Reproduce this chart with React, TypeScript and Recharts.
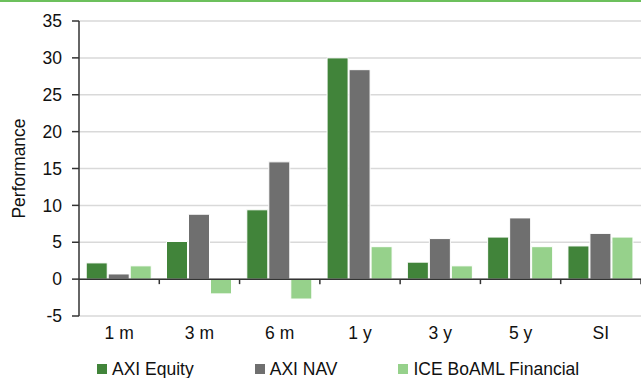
import React from 'react';
import {
  BarChart,
  Bar,
  XAxis,
  YAxis,
  CartesianGrid,
  ReferenceLine,
  Legend,
} from 'recharts';

const periods = ['1 m', '3 m', '6 m', '1 y', '3 y', '5 y', 'SI'];
const axiEquity = [2.2, 5.1, 9.4, 30.0, 2.3, 5.7, 4.5];
const axiNav = [0.7, 8.8, 15.9, 28.4, 5.5, 8.3, 6.2];
const iceBoaml = [1.8, -2.0, -2.7, 4.4, 1.8, 4.4, 5.7];
const yTicks = [-5, 0, 5, 10, 15, 20, 25, 30, 35];

const seriesNames = ['AXI Equity', 'AXI NAV', 'ICE BoAML Financial'];
const seriesColors = ['#41843a', '#6f6f6f', '#96d18b'];

const data = periods.map((p, i) => ({
  period: p,
  equity: axiEquity[i],
  nav: axiNav[i],
  ice: iceBoaml[i],
}));

const FONT = '"Liberation Sans", Arial, sans-serif';
const FS = 17.5;

// zero line with small tick marks at the category boundaries
const ZeroLine = (props: any) => {
  const { x1, x2, y1 } = props;
  const step = (x2 - x1) / periods.length;
  const marks = [];
  for (let i = 1; i <= periods.length; i++) {
    const x = x1 + step * i;
    marks.push(<line key={i} x1={x} x2={x} y1={y1} y2={y1 + 5} stroke="#333" strokeWidth={1.5} />);
  }
  return (
    <g>
      <line x1={x1} x2={x2} y1={y1} y2={y1} stroke="#333" strokeWidth={1.5} />
      {marks}
    </g>
  );
};

const renderLegend = () => (
  <div
    style={{
      display: 'flex',
      height: 28,
      boxSizing: 'border-box',
      paddingTop: 9,
      paddingLeft: 97,
      lineHeight: '20px',
      fontFamily: FONT,
      fontSize: FS,
      color: '#111',
    }}
  >
    {seriesNames.map((name, i) => (
      <div key={name} style={{ display: 'flex', alignItems: 'center', marginRight: 61 }}>
        <span style={{ width: 10, height: 10, background: seriesColors[i], marginRight: 5, display: 'inline-block' }} />
        <span>{name}</span>
      </div>
    ))}
  </div>
);

export default function App() {
  return (
    <div style={{ position: 'absolute', left: 0, top: 0, width: 641, height: 378, background: '#fff' }}>
      <div style={{ height: 2, background: '#6cc05c' }} />
      <BarChart
        width={641}
        height={376}
        data={data}
        margin={{ top: 19, right: 0, left: 0, bottom: 0 }}
        barCategoryGap="9%"
        barGap={1}
      >
        <CartesianGrid vertical={false} stroke="#d9d9d9" strokeWidth={1.5} />
        <XAxis
          dataKey="period"
          axisLine={false}
          tickLine={false}
          height={34}
          tickMargin={5}
          tick={{ fontFamily: FONT, fontSize: FS, fill: '#111' }}
        />
        <YAxis
          domain={[-5, 35]}
          ticks={yTicks}
          width={79}
          interval={0}
          axisLine={{ stroke: '#333', strokeWidth: 1.5 }}
          tickLine={{ stroke: '#333', strokeWidth: 1.5 }}
          tickSize={7}
          tickMargin={10}
          tick={{ fontFamily: FONT, fontSize: FS, fill: '#111' }}
          label={{
            value: 'Performance',
            angle: -90,
            position: 'insideLeft',
            offset: 19,
            style: { fontFamily: FONT, fontSize: FS, fill: '#111', textAnchor: 'middle' },
          }}
        />
        <ReferenceLine y={0} shape={ZeroLine} />
        <Bar dataKey="equity" name={seriesNames[0]} fill={seriesColors[0]} stroke="#fff" strokeWidth={1} isAnimationActive={false} />
        <Bar dataKey="nav" name={seriesNames[1]} fill={seriesColors[1]} stroke="#fff" strokeWidth={1} isAnimationActive={false} />
        <Bar dataKey="ice" name={seriesNames[2]} fill={seriesColors[2]} stroke="#fff" strokeWidth={1} isAnimationActive={false} />
        <Legend verticalAlign="bottom" height={28} content={renderLegend} />
      </BarChart>
    </div>
  );
}
